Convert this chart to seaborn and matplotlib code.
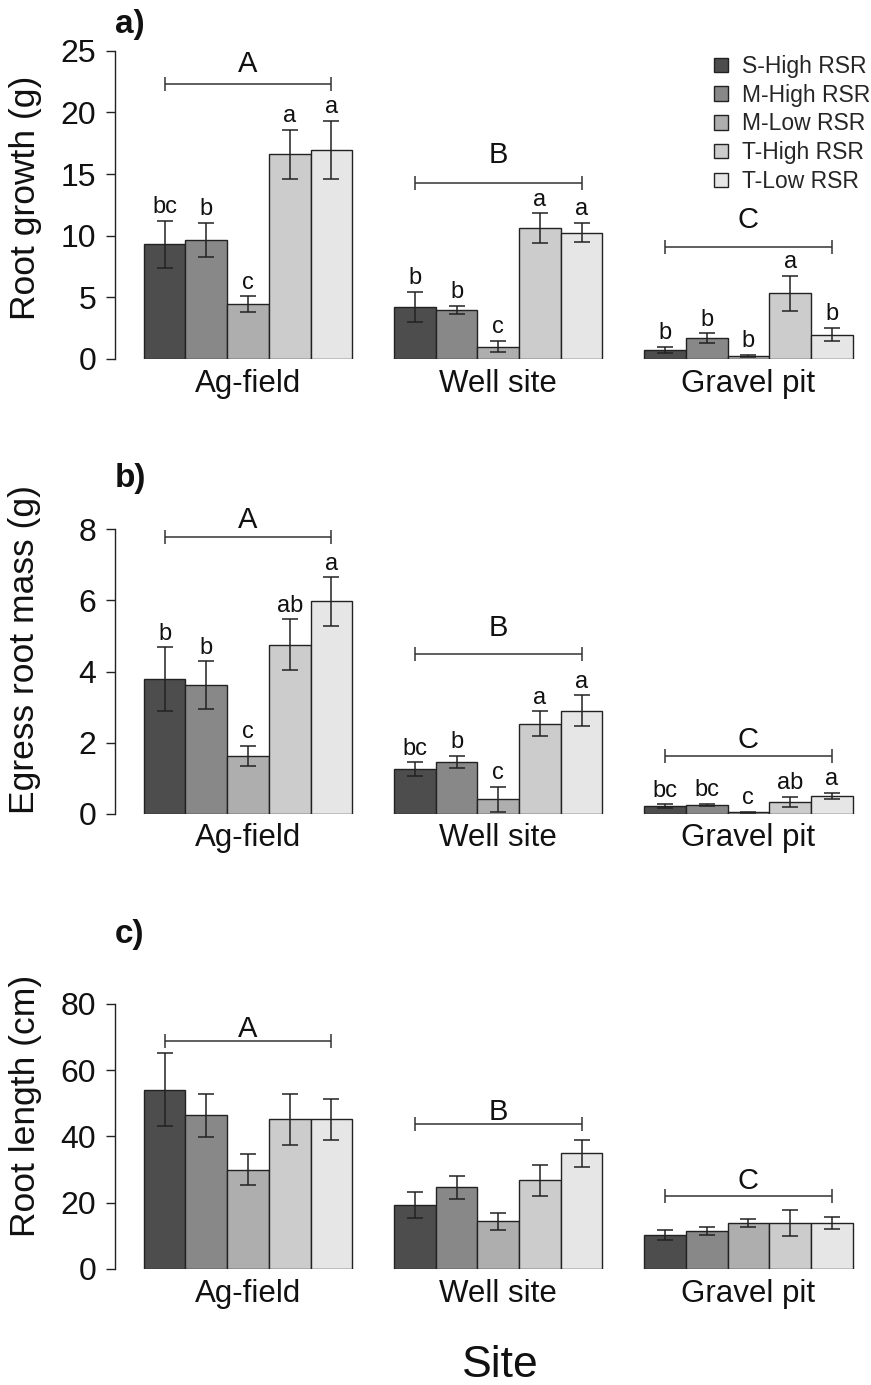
import numpy as np
import pandas as pd
import matplotlib
matplotlib.use("Agg")
import matplotlib.pyplot as plt
import seaborn as sns
from matplotlib.patches import Patch

# ---------------- data ----------------
sites = ["Ag-field", "Well site", "Gravel pit"]
treatments = ["S-High RSR", "M-High RSR", "M-Low RSR", "T-High RSR", "T-Low RSR"]
colors = ["#4D4D4D", "#888888", "#AEAEAE", "#CCCCCC", "#E6E6E6"]

# a) Root growth (g)   rows = sites, cols = treatments
growth_mean = [[9.3, 9.65, 4.45, 16.6, 16.95],
               [4.24, 3.97, 1.0, 10.6, 10.25],
               [0.75, 1.7, 0.27, 5.33, 1.97]]
growth_se = [[1.9, 1.4, 0.62, 2.0, 2.35],
             [1.2, 0.35, 0.47, 1.2, 0.8],
             [0.25, 0.37, 0.08, 1.4, 0.55]]
growth_letters = [["bc", "b", "c", "a", "a"],
                  ["b", "b", "c", "a", "a"],
                  ["b", "b", "b", "a", "b"]]
growth_bracket_y = [22.3, 14.3, 9.1]
growth_bracket_label_y = [23.3, 15.9, 10.6]

# b) Egress root mass (g)
egress_mean = [[3.79, 3.62, 1.62, 4.75, 5.97],
               [1.25, 1.45, 0.41, 2.53, 2.9],
               [0.21, 0.245, 0.04, 0.33, 0.5]]
egress_se = [[0.89, 0.67, 0.29, 0.72, 0.68],
             [0.2, 0.17, 0.35, 0.35, 0.43],
             [0.05, 0.03, 0.01, 0.14, 0.08]]
egress_letters = [["b", "b", "c", "ab", "a"],
                  ["bc", "b", "c", "a", "a"],
                  ["bc", "bc", "c", "ab", "a"]]
egress_bracket_y = [7.77, 4.5, 1.62]
egress_bracket_label_y = [8.03, 5.01, 1.84]

# c) Root length (cm)
length_mean = [[54.1, 46.4, 30.0, 45.1, 45.1],
               [19.3, 24.6, 14.4, 26.8, 34.9],
               [10.25, 11.6, 13.9, 13.9, 13.9]]
length_se = [[11.0, 6.5, 4.6, 7.6, 6.2],
             [4.0, 3.4, 2.5, 4.7, 4.0],
             [1.6, 1.2, 1.3, 4.0, 1.75]]
length_bracket_y = [68.8, 43.8, 22.0]
length_bracket_label_y = [70.0, 44.9, 24.0]

site_groups = ["A", "B", "C"]
panel_labels = ["a)", "b)", "c)"]
ylabels = ["Root growth (g)", "Egress root mass (g)", "Root length (cm)"]
yticks_list = [[0, 5, 10, 15, 20, 25], [0, 2, 4, 6, 8], [0, 20, 40, 60, 80]]
xlabel = "Site"

# ---------------- style ----------------
sns.set_style("white")
plt.rcParams["font.family"] = ["Liberation Sans", "DejaVu Sans"]
EC = "#222222"

W, H = 871, 1385
fig = plt.figure(figsize=(W / 100, H / 100), dpi=100)

LEFT_PX, RIGHT_PX = 115, 860
XLIM = (-0.5316, 2.446)

# (zero-line pixel, pixels per unit, ylim top)
geoms = [(359.0, 12.332, 26.0), (813.7, 35.55, 8.6), (1269.0, 3.316, 85.0)]


def make_axes(y0_px, ppu, ytop):
    top_px = y0_px - ytop * ppu
    return fig.add_axes([LEFT_PX / W, 1 - y0_px / H,
                         (RIGHT_PX - LEFT_PX) / W, (y0_px - top_px) / H])


def draw_panel(ax, means, ses, letters, brk_y, brk_lab_y, yticks, ytop):
    rows = []
    for i, s in enumerate(sites):
        for j, t in enumerate(treatments):
            rows.append({"site": s, "treatment": t, "value": means[i][j]})
    df = pd.DataFrame(rows)
    sns.barplot(data=df, x="site", y="value", hue="treatment",
                order=sites, hue_order=treatments, palette=colors,
                width=5 / 6, gap=0, errorbar=None, saturation=1,
                edgecolor=EC, linewidth=1.0, legend=False, ax=ax)
    bars = sorted(ax.patches, key=lambda p: p.get_x())
    xs = [b.get_x() + b.get_width() / 2 for b in bars]
    hs = [b.get_height() for b in bars]
    se_flat = [ses[i][j] for i in range(len(sites)) for j in range(len(treatments))]
    ax.errorbar(xs, hs, yerr=se_flat, fmt="none", ecolor=EC,
                elinewidth=1.1, capsize=5.5, capthick=1.1, zorder=3)
    if letters is not None:
        let_flat = [letters[i][j] for i in range(len(sites)) for j in range(len(treatments))]
        for x, h, e, l in zip(xs, hs, se_flat, let_flat):
            ax.annotate(l, (x, h + e), xytext=(0, 5.5), textcoords="offset points",
                        ha="center", va="baseline", fontsize=17, color="#111111",
                        annotation_clip=False)
    n = len(treatments)
    for i in range(len(sites)):
        x0, x1 = xs[i * n], xs[i * n + n - 1]
        xc = (x0 + x1) / 2
        ax.errorbar([xc], [brk_y[i]], xerr=[(x1 - x0) / 2], fmt="none",
                    ecolor="#333333", elinewidth=1.1, capsize=5, capthick=1.1)
        ax.text(xc, brk_lab_y[i], site_groups[i], ha="center", va="baseline",
                fontsize=21, color="#111111", clip_on=False)

    ax.set_xlim(*XLIM)
    ax.set_ylim(0, ytop)
    ax.set_yticks(yticks)
    ax.set_yticklabels([str(v) for v in yticks])
    ax.set_xlabel("")
    ax.set_ylabel("")
    for sp in ["top", "right", "bottom"]:
        ax.spines[sp].set_visible(False)
    ax.spines["left"].set_bounds(0, yticks[-1])
    ax.spines["left"].set_color(EC)
    ax.spines["left"].set_linewidth(1.0)
    ax.tick_params(axis="x", length=0, pad=7, labelsize=22.5, colors="#111111")
    ax.tick_params(axis="y", length=6.5, width=1.0, pad=7, labelsize=23,
                   direction="out", colors=EC, labelcolor="#111111", left=True)
    ax.patch.set_alpha(0)


panels = [
    (growth_mean, growth_se, growth_letters, growth_bracket_y, growth_bracket_label_y),
    (egress_mean, egress_se, egress_letters, egress_bracket_y, egress_bracket_label_y),
    (length_mean, length_se, None, length_bracket_y, length_bracket_label_y),
]

axes = []
for k, (m, s, l, by, bly) in enumerate(panels):
    y0, ppu, ytop = geoms[k]
    ax = make_axes(y0, ppu, ytop)
    draw_panel(ax, m, s, l, by, bly, yticks_list[k], ytop)
    axes.append(ax)

# panel labels
for lab, ybase in zip(panel_labels, [33, 487, 943]):
    fig.text(115 / W, 1 - ybase / H, lab, fontsize=24, fontweight="bold",
             ha="left", va="baseline", color="#111111")

# y labels
for lab, yc in zip(ylabels, [198, 650, 1106]):
    fig.text(25 / W, 1 - yc / H, lab, rotation=90, fontsize=25.5,
             ha="center", va="center", color="#111111")

# x label
fig.text(500 / W, 1 - 1377 / H, xlabel, fontsize=32, ha="center",
         va="baseline", color="#111111")

# legend
handles = [Patch(facecolor=c, edgecolor=EC, linewidth=1.0, label=t)
           for c, t in zip(colors, treatments)]
axes[0].legend(handles=handles, loc="upper left",
               bbox_to_anchor=(714 / W, 1 - 55 / H), bbox_transform=fig.transFigure,
               frameon=False, fontsize=16.5, handlelength=0.6, handleheight=0.6,
               handletextpad=0.6, labelspacing=0.25, borderpad=0, borderaxespad=0)

fig.savefig("out.png", dpi=100)
